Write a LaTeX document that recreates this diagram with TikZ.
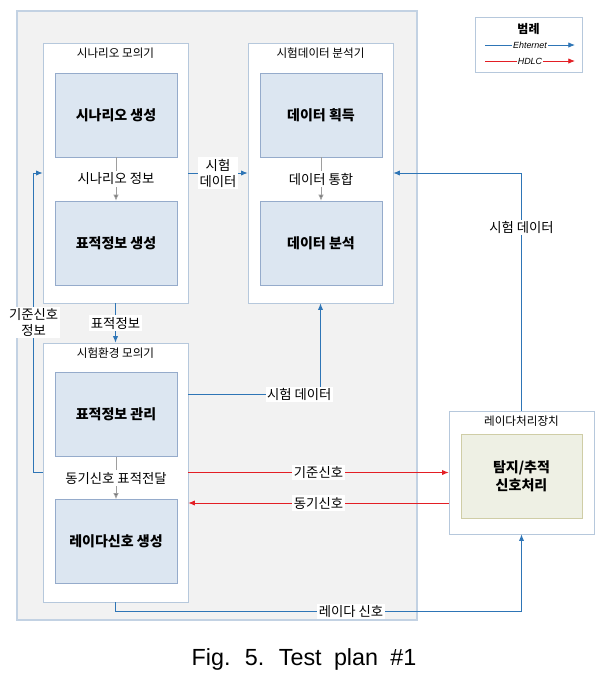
\documentclass[tikz,border=0pt]{standalone}
\usepackage{fontspec}
\setmainfont{Noto Sans CJK KR}
\newfontfamily\legendfont{Liberation Sans}
\newfontfamily\capfont[WordSpace=1.9]{Liberation Sans}
\usetikzlibrary{arrows.meta,calc}

\definecolor{bgfill}{HTML}{F2F2F2}
\definecolor{bgline}{HTML}{C3D2E3}
\definecolor{panelline}{HTML}{B6C8DC}
\definecolor{blockfill}{HTML}{DCE6F1}
\definecolor{blockline}{HTML}{95ABCB}
\definecolor{procfill}{HTML}{EEF0E4}
\definecolor{procline}{HTML}{CFCDA6}
\definecolor{ethblue}{HTML}{2E75B6}
\definecolor{hdlcred}{HTML}{E31E24}

\begin{document}
\begin{tikzpicture}[x=0.75pt,y=-0.75pt,font=\fontsize{10}{12}\selectfont]
  \tikzset{
    panel/.style={draw=panelline,fill=white,inner sep=0pt,
      minimum width=108.75pt,minimum height=195pt},
    paneltitle/.style={font=\fontsize{8.7}{10}\selectfont},
    block/.style={draw=blockline,fill=blockfill,align=center,
      minimum width=91.5pt,minimum height=63pt,
      font=\fontsize{10.5}{13.5}\selectfont\bfseries},
    lbl/.style={fill=white,inner sep=1.2pt,align=center},
    local/.style={draw=black!38,line width=0.75pt,
      -{Latex[length=4.5pt,width=4pt,fill=black!65]}},
    eth/.style={draw=ethblue,line width=0.75pt,-{Latex[length=5pt,width=4pt]}},
    hdlc/.style={draw=hdlcred,line width=0.75pt,-{Latex[length=5pt,width=4pt]}}
  }
  \useasboundingbox (0,0) rectangle (613,676);
  \draw[draw=bgline,fill=bgfill,line width=0.8pt] (17,11) rectangle (417,620);

  % scenario simulator
  \node[panel] (scen) at (115.5,173) {};
  \node[paneltitle] (scentitle) at ($(scen.north)+(0,10.5)$) {시나리오 모의기};
  \node[block] (scengen) at (116,115) {시나리오 생성};
  \node[block] (tgtgen) at (116,243) {표적정보 생성};
  \draw[local] (scengen) -- (tgtgen) node[lbl,midway] {시나리오 정보};

  % test data analyser
  \node[panel] (ana) at (320.5,173) {};
  \node[paneltitle] (anatitle) at ($(ana.north)+(0,10.5)$) {시험데이터 분석기};
  \node[block] (acq) at (321,115) {데이터 획득};
  \node[block] (anal) at (321,243) {데이터 분석};
  \draw[local] (acq) -- (anal) node[lbl,midway] {데이터 통합};

  % test environment simulator
  \node[panel,minimum height=194.25pt] (env) at (115.5,472.5) {};
  \node[paneltitle] (envtitle) at ($(env.north)+(0,10.5)$) {시험환경 모의기};
  \node[block] (tgtmgmt) at (116,414.5) {표적정보 관리};
  \node[block] (radgen) at (116,541.5) {레이다신호 생성};
  \draw[local] (tgtmgmt) -- (radgen) node[lbl,midway] {동기신호 표적전달};

  % radar processor
  \node[panel,minimum height=92.25pt] (radar) at (521.5,472.5) {};
  \node[paneltitle] (radartitle) at ($(radar.north)+(0,10.5)$) {레이다처리장치};
  \node[block,draw=procline,fill=procfill,minimum width=90.75pt] (proc)
    at (521.5,476) {탐지/추적\\신호처리};

  % links
  \draw[eth] (scen.south) -- (env.north) node[lbl,midway] {표적정보};
  \draw[eth] (scen.east) -- (ana.west) node[lbl,midway] {시험\\데이터};
  \draw[eth] (env.west) -- ++(-9,0) |- (scen.west)
    node[lbl,pos=0.25] {기준신호\\정보};
  \draw[eth] ($(env.north east)+(0,52)$) -| (ana.south)
    node[lbl,pos=0.42] {시험 데이터};
  \draw[hdlc] (env.east) -- (radar.west) node[lbl,midway] {기준신호};
  \draw[hdlc] ($(radar.west)+(0,30.5)$) -- ($(env.east)+(0,30.5)$)
    node[lbl,midway] {동기신호};
  \draw[eth] (env.south) -- ++(0,9) -| (radar.south)
    node[lbl,pos=0.29] {레이다 신호};
  \draw[eth] (radar.north) |- (ana.east) node[lbl,pos=0.385] {시험 데이터};

  % legend
  \node[draw=panelline,fill=white,minimum width=80.25pt,minimum height=41.25pt]
    (legend) at (528.5,44.5) {};
  \node[font=\fontsize{9}{10}\selectfont\bfseries] (legendtitle) at (528.5,29) {범례};
  \coordinate (ethA) at (485,45);
  \coordinate (ethB) at (575,45);
  \coordinate (hdlcA) at (485,61);
  \coordinate (hdlcB) at (575,61);
  \draw[eth,line width=0.6pt] (ethA) -- (ethB)
    node[lbl,inner sep=0.5pt,midway,font=\legendfont\itshape\fontsize{6.7}{7}\selectfont] {Ehternet};
  \draw[hdlc,line width=0.6pt] (hdlcA) -- (hdlcB)
    node[lbl,inner sep=0.5pt,midway,font=\legendfont\itshape\fontsize{6.7}{7}\selectfont] {HDLC};

  \node[font=\capfont\fontsize{17.5}{19}\selectfont] (caption) at (304,659)
    {Fig. 5. Test plan \#1};
\end{tikzpicture}
\end{document}
